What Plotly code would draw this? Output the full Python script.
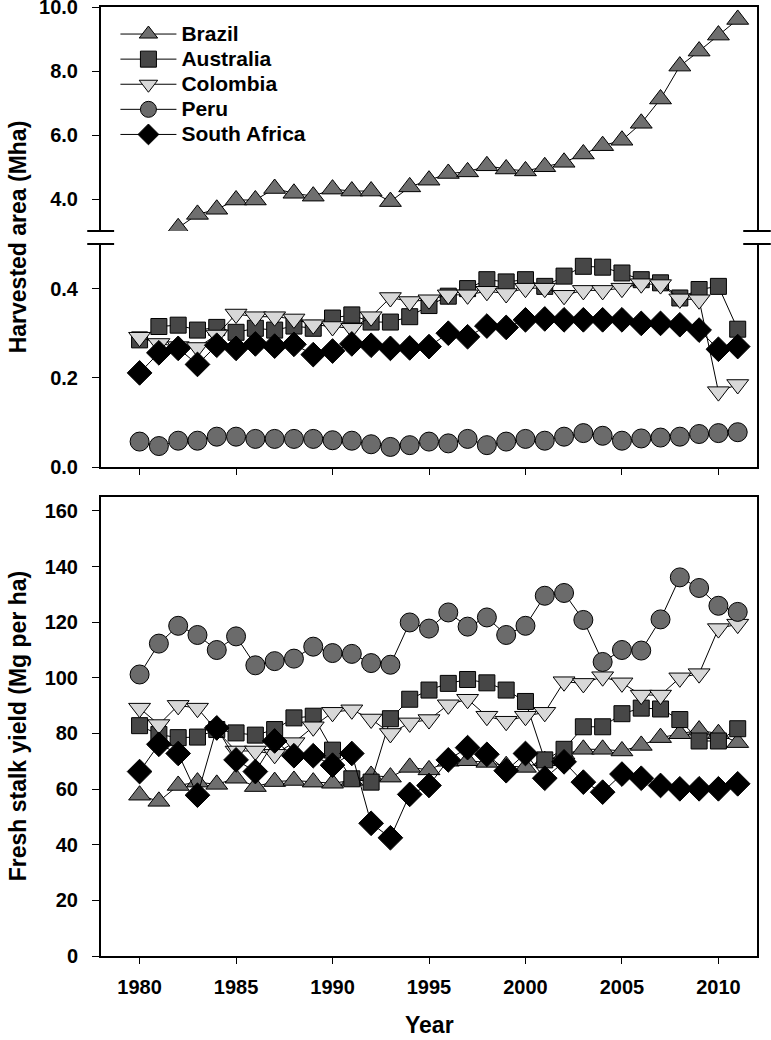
import plotly.graph_objects as go

years = list(range(1980, 2012))

# Harvested area (Mha)
brazil_area = [None, None, 3.10, 3.52, 3.68, 3.97, 3.97, 4.33, 4.18, 4.09,
               4.31, 4.25, 4.25, 3.92, 4.38, 4.59, 4.80, 4.85, 5.04, 4.94,
               4.88, 5.01, 5.15, 5.41, 5.67, 5.84, 6.37, 7.13, 8.16, 8.63,
               9.13, 9.62]
australia_area = [0.285, 0.315, 0.318, 0.307, 0.313, 0.302, 0.311, 0.307, 0.316, 0.311,
                  0.334, 0.341, 0.325, 0.325, 0.337, 0.362, 0.383, 0.400, 0.420, 0.415,
                  0.420, 0.405, 0.428, 0.450, 0.448, 0.435, 0.420, 0.413, 0.379, 0.398,
                  0.405, 0.309]
colombia_area = [0.291, 0.277, 0.270, 0.268, 0.296, 0.343, 0.337, 0.337, 0.332, 0.319,
                 0.315, 0.311, 0.337, 0.380, 0.371, 0.375, 0.386, 0.386, 0.394, 0.389,
                 0.401, 0.401, 0.385, 0.396, 0.396, 0.401, 0.411, 0.409, 0.377, 0.375,
                 0.169, 0.185]
peru_area = [0.057, 0.047, 0.059, 0.059, 0.068, 0.068, 0.063, 0.063, 0.063, 0.063,
             0.060, 0.059, 0.051, 0.045, 0.049, 0.057, 0.053, 0.063, 0.049, 0.057,
             0.063, 0.059, 0.068, 0.076, 0.070, 0.059, 0.064, 0.066, 0.068, 0.074,
             0.076, 0.078]
south_africa_area = [0.211, 0.256, 0.266, 0.230, 0.273, 0.266, 0.276, 0.271, 0.275, 0.252,
                     0.260, 0.276, 0.273, 0.266, 0.267, 0.270, 0.300, 0.292, 0.316, 0.313,
                     0.330, 0.332, 0.330, 0.330, 0.330, 0.330, 0.322, 0.322, 0.319, 0.307,
                     0.264, 0.270]

# Fresh stalk yield (Mg per ha)
brazil_yield = [57.8, 55.6, 61.3, 62.5, 61.7, 63.9, 60.9, 62.7, 63.1, 62.5,
                62.1, 63.1, 64.9, 64.3, 67.8, 66.9, 70.0, 70.2, 69.6, 68.4,
                67.8, 70.2, 72.5, 74.3, 74.3, 73.7, 75.7, 78.5, 79.9, 81.2,
                79.9, 76.7]
australia_yield = [82.8, 79.6, 78.5, 78.7, 81.4, 80.2, 79.4, 81.4, 85.6, 86.2,
                   74.0, 63.7, 62.5, 85.3, 92.3, 95.6, 98.0, 99.4, 98.2, 95.6,
                   91.5, 70.5, 74.3, 82.4, 82.4, 87.1, 89.1, 88.8, 85.0, 77.3,
                   77.3, 81.7]
colombia_yield = [89.1, 83.2, 90.1, 89.1, 81.0, 73.7, 73.7, 72.5, 76.7, 82.4,
                  87.6, 88.5, 85.2, 80.0, 83.8, 85.0, 90.3, 92.3, 86.2, 84.4,
                  86.2, 87.6, 98.6, 98.0, 100.4, 98.2, 93.8, 93.8, 100.0, 101.5,
                  117.7, 119.3]
peru_yield = [101.2, 112.3, 118.7, 115.4, 110.0, 114.9, 104.5, 106.0, 106.9, 111.2,
              108.9, 108.6, 105.3, 104.7, 119.9, 117.7, 123.5, 118.4, 121.7, 115.4,
              118.7, 129.5, 130.5, 120.8, 105.7, 110.0, 109.8, 121.0, 136.1, 132.3,
              125.9, 123.7]
south_africa_yield = [66.3, 76.1, 72.8, 57.8, 82.0, 70.5, 66.3, 77.3, 72.0, 72.0,
                      68.6, 72.8, 47.7, 42.5, 58.1, 61.3, 70.5, 74.9, 72.5, 66.6,
                      72.8, 63.9, 69.8, 62.5, 58.9, 65.4, 63.9, 61.3, 60.1, 60.1,
                      60.1, 61.9]

x_ticks = [1980, 1985, 1990, 1995, 2000, 2005, 2010]

series = [
    ("Brazil", brazil_area, brazil_yield, "triangle-up", "#6f6f6f", 19),
    ("Australia", australia_area, australia_yield, "square", "#474747", 16),
    ("Colombia", colombia_area, colombia_yield, "triangle-down", "#d8d8d8", 19),
    ("Peru", peru_area, peru_yield, "circle", "#6b6b6b", 19),
    ("South Africa", south_africa_area, south_africa_yield, "diamond", "#000000", 19),
]

FONT = "Liberation Sans, Arial, sans-serif"

fig = go.Figure()
for name, area, yld, sym, col, sz in series:
    yax = "y3" if name == "Brazil" else "y2"
    xax = "x3" if name == "Brazil" else "x2"
    fig.add_trace(go.Scatter(
        x=years, y=area, name='<span style="font-size:21px">%s</span>' % name,
        mode="lines+markers", xaxis=xax, yaxis=yax,
        line=dict(color="black", width=1),
        marker=dict(symbol=sym, size=sz, color=col, line=dict(color="black", width=1)),
        showlegend=True,
    ))
for name, area, yld, sym, col, sz in series:
    fig.add_trace(go.Scatter(
        x=years, y=yld, name=name, mode="lines+markers",
        xaxis="x", yaxis="y",
        line=dict(color="black", width=1),
        marker=dict(symbol=sym, size=sz, color=col, line=dict(color="black", width=1)),
        showlegend=False,
    ))

tickfont = dict(family=FONT, size=20, color="black", weight="bold")
common_x = dict(range=[1978, 2012], tickvals=x_ticks, showgrid=False, zeroline=False,
                linecolor="black", linewidth=2, ticks="outside", ticklen=6,
                tickcolor="black", tickwidth=1, automargin=False)
common_y = dict(showgrid=False, zeroline=False, linecolor="black", linewidth=2,
                ticks="outside", ticklen=7, tickcolor="black", tickwidth=1,
                tickfont=tickfont, showline=True, mirror=True, ticklabelstandoff=10,
                ticklabeloverflow="allow", automargin=False)

H_PLOT = 949.0
def py(pix):
    return (956.0 - pix) / H_PLOT

fig.update_layout(
    width=771, height=1040,
    margin=dict(l=101, r=14, t=7, b=84, autoexpand=False),
    paper_bgcolor="white", plot_bgcolor="white",
    showlegend=True,
    legend=dict(x=0.022, y=0.990, xanchor="left", yanchor="top",
                font=dict(family=FONT, size=17, color="black", weight="bold"),
                bgcolor="rgba(0,0,0,0)", tracegroupgap=0, itemwidth=56),
    xaxis=dict(**common_x, anchor="y", domain=[0, 1], showline=True, mirror=True,
               showticklabels=True, tickfont=tickfont, ticklabelstandoff=6),
    yaxis=dict(**common_y, anchor="x", domain=[0, py(497)], range=[0, 165],
               tickvals=[0, 20, 40, 60, 80, 100, 120, 140, 160]),
    xaxis2=dict(**common_x, anchor="y2", domain=[0, 1], showline=True, mirror=False,
                showticklabels=False, matches="x"),
    yaxis2=dict(**common_y, anchor="x2", domain=[py(467), py(244)], range=[0, 0.5],
                tickvals=[0.0, 0.2, 0.4], tickformat=".1f"),
    xaxis3=dict(range=[1978, 2012], anchor="y3", domain=[0, 1], showline=True,
                side="top", linecolor="black", linewidth=2, showgrid=False,
                zeroline=False, showticklabels=False, ticks="", matches="x",
                automargin=False),
    yaxis3=dict(**common_y, anchor="x3", domain=[py(231), 1.0], range=[3, 10.01],
                tickvals=[4, 6, 8, 10], tickformat=".1f"),
)

# axis break marks
for yp in (py(231), py(244)):
    for x0, x1 in ((-0.021, 0.020), (0.979, 1.021)):
        fig.add_shape(type="line", xref="paper", yref="paper", x0=x0, x1=x1, y0=yp, y1=yp,
                      line=dict(color="black", width=2))

title_font = dict(family=FONT, size=23, color="black", weight="bold")
fig.add_annotation(text="Harvested area (Mha)", xref="paper", yref="paper",
                   x=-0.126, y=py(237), textangle=-90, showarrow=False,
                   font=title_font, xanchor="center", yanchor="middle")
fig.add_annotation(text="Fresh stalk yield (Mg per ha)", xref="paper", yref="paper",
                   x=-0.126, y=py(726), textangle=-90, showarrow=False,
                   font=title_font, xanchor="center", yanchor="middle")
fig.add_annotation(text="Year", xref="paper", yref="paper",
                   x=0.5, y=py(1025), showarrow=False,
                   font=dict(family=FONT, size=23, color="black", weight="bold"),
                   xanchor="center", yanchor="middle")

fig.write_html("out.html", config={"displayModeBar": False},
               post_script="document.body.style.margin='0px';")
